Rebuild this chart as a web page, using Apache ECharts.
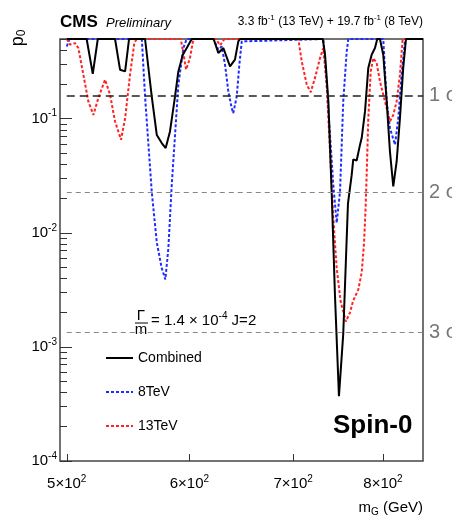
<!DOCTYPE html>
<html>
<head>
<meta charset="utf-8">
<script src="https://cdn.jsdelivr.net/npm/echarts@6/dist/echarts.min.js"></script>
<style>
html, body { margin: 0; padding: 0; background: #fff; }
#chart { width: 452px; height: 522px; }
</style>
</head>
<body>
<div id="chart"></div>
<script>
const FONT = '"Liberation Sans", Arial, Helvetica, sans-serif';

// p0 scan vs resonance mass (GeV)
const combinedMass = [500, 515, 519.7, 523.6, 537.2, 541.2, 545.3, 548.5, 561.7, 567.3, 571.6, 575.8, 579.2, 582.9, 587.3, 590.2, 594.1, 597.6, 602, 622, 626.3, 631, 637.3, 642, 645.2, 646.8, 731.5, 734, 737.6, 741.3, 744.9, 749.3, 754.1, 759.4, 763.6, 765.4, 769.3, 773.1, 775.1, 778.9, 782.7, 786.6, 790.5, 793.2, 796.4, 800.3, 804.4, 808.3, 812.3, 816.4, 820.4, 824.4, 827.8, 849];
const combinedP = [0.5, 0.5, 0.247, 0.5, 0.5, 0.269, 0.26, 0.5, 0.5, 0.157, 0.072, 0.0612, 0.0553, 0.0774, 0.157, 0.26, 0.364, 0.417, 0.5, 0.5, 0.377, 0.417, 0.288, 0.33, 0.476, 0.5, 0.5, 0.364, 0.142, 0.022, 0.0028, 0.00037, 0.0013, 0.018, 0.032, 0.044, 0.043, 0.059, 0.068, 0.116, 0.279, 0.364, 0.417, 0.5, 0.5, 0.364, 0.142, 0.0516, 0.0255, 0.0422, 0.101, 0.279, 0.5, 0.5];

const tev8Mass = [500, 502, 559, 561.7, 564.5, 567.3, 571.6, 575.8, 578.9, 581.5, 584.4, 587.3, 590.2, 594.6, 597.6, 621.7, 626.3, 629.5, 632.6, 635.7, 638.9, 640.4, 643.7, 646.2, 648.5, 732.1, 735.8, 739.4, 743, 746.8, 750.5, 754.1, 758, 759.8, 800.3, 804.4, 808.3, 814.4, 818.4, 822.5, 826.5, 828, 849];
const tev8P = [0.43, 0.5, 0.5, 0.157, 0.06, 0.023, 0.0082, 0.0049, 0.0039, 0.0073, 0.026, 0.0724, 0.199, 0.417, 0.5, 0.5, 0.403, 0.43, 0.298, 0.173, 0.124, 0.112, 0.157, 0.298, 0.476, 0.5, 0.2, 0.0724, 0.0264, 0.0122, 0.023, 0.142, 0.389, 0.5, 0.5, 0.142, 0.0828, 0.0592, 0.101, 0.247, 0.476, 0.5, 0.5];

const tev13Mass = [500, 502.5, 506.2, 508.7, 512.5, 516.3, 520.2, 524, 529.3, 533.2, 537.2, 542, 545.3, 549.3, 552.8, 554.8, 592.3, 594.1, 597, 600.5, 603.5, 624, 628, 632, 705.4, 709, 714.3, 718.5, 723.1, 728.5, 732.1, 735.8, 739.4, 743, 746.8, 751.2, 757, 761.7, 765, 771.2, 775.1, 777.7, 779.5, 780.8, 782.7, 785.5, 788.5, 792.5, 796.4, 802.3, 808.3, 812.3, 816.4, 820.4, 823.7, 849];
const tev13P = [0.5, 0.446, 0.46, 0.417, 0.243, 0.142, 0.108, 0.152, 0.22, 0.163, 0.0946, 0.0654, 0.101, 0.243, 0.461, 0.5, 0.5, 0.4, 0.27, 0.34, 0.5, 0.5, 0.44, 0.5, 0.5, 0.318, 0.199, 0.171, 0.228, 0.34, 0.417, 0.199, 0.0516, 0.0135, 0.0049, 0.0025, 0.00167, 0.002, 0.0025, 0.0032, 0.0045, 0.008, 0.016, 0.032, 0.1, 0.26, 0.34, 0.308, 0.212, 0.142, 0.0946, 0.108, 0.142, 0.243, 0.5, 0.5];

// significance reference lines
const sigmaP = [0.1587, 0.02275, 0.00135];
const sigmaLabels = ['1 σ', '2 σ', '3 σ'];

// axes
const massMin = 495;
const massMax = 849;
const pMin = 1e-4;
const pMax = 0.5;
const xTickMass = [500, 600, 700, 800];
const yTickExp = [-4, -3, -2, -1];

const lg = Math.log10;
const toPoints = (mass, p) => mass.map((m, i) => [lg(m), lg(p[i])]);

const yMinor = [];
yTickExp.forEach(e => {
  for (let k = 2; k <= 9; k++) {
    const v = k * Math.pow(10, e);
    if (v <= pMax) yMinor.push(lg(v));
  }
});

const supRich = {
  b: { fontFamily: FONT, fontSize: 15, color: '#000', lineHeight: 20, verticalAlign: 'middle' },
  s: { fontFamily: FONT, fontSize: 10, color: '#000', lineHeight: 9, verticalAlign: 'top' }
};

const chart = echarts.init(document.getElementById('chart'));

const option = {
  animation: false,
  backgroundColor: '#fff',
  grid: {
    left: 60, right: 29, top: 39, bottom: 61,
    containLabel: false,
    outerBoundsMode: 'none',
    show: true,
    borderColor: '#444',
    borderWidth: 1.5,
    backgroundColor: 'transparent'
  },
  legend: {
    data: ['Combined', '8TeV', '13TeV'],
    orient: 'vertical',
    left: 100,
    top: 346,
    itemWidth: 27,
    itemHeight: 14,
    itemGap: 20,
    itemStyle: { opacity: 0 },
    textStyle: { fontFamily: FONT, fontSize: 14, color: '#000' }
  },
  xAxis: {
    type: 'value',
    min: lg(massMin),
    max: lg(massMax),
    axisLine: { show: false },
    splitLine: { show: false },
    axisTick: {
      show: true, inside: true, length: 7,
      customValues: xTickMass.map(lg),
      lineStyle: { color: '#333', width: 1 }
    },
    axisLabel: {
      customValues: xTickMass.map(lg),
      margin: 13,
      formatter: v => '{b|' + Math.round(Math.pow(10, v) / 100) + '×10}{s|2}',
      rich: supRich
    }
  },
  yAxis: [
    {
      type: 'value',
      min: lg(pMin),
      max: lg(pMax),
      axisLine: { show: false },
      splitLine: { show: false },
      axisTick: {
        show: true, inside: true, length: 12,
        customValues: yTickExp,
        lineStyle: { color: '#333', width: 1 }
      },
      axisLabel: {
        customValues: yTickExp,
        margin: 3,
        formatter: v => '{b|10}{s|' + Math.round(v) + '}',
        rich: supRich
      }
    },
    {
      type: 'value',
      min: lg(pMin),
      max: lg(pMax),
      position: 'left',
      axisLine: { show: false },
      splitLine: { show: false },
      axisTick: {
        show: true, inside: true, length: 7,
        customValues: yMinor,
        lineStyle: { color: '#333', width: 1 }
      },
      axisLabel: { show: false }
    }
  ],
  series: [
    {
      name: '8TeV',
      type: 'line',
      symbol: 'none',
      color: '#1f2cff',
      lineStyle: { color: '#1f2cff', width: 2, type: [3, 2] },
      data: toPoints(tev8Mass, tev8P)
    },
    {
      name: '13TeV',
      type: 'line',
      symbol: 'none',
      color: '#ff2323',
      lineStyle: { color: '#ff2323', width: 2, type: [3, 2] },
      data: toPoints(tev13Mass, tev13P)
    },
    {
      name: 'Combined',
      type: 'line',
      symbol: 'none',
      color: '#000',
      lineStyle: { color: '#000', width: 2 },
      data: toPoints(combinedMass, combinedP),
      markLine: {
        silent: true,
        symbol: ['none', 'none'],
        data: sigmaP.map((p, i) => [
          {
            coord: [lg(500), lg(p)],
            lineStyle: i === 0
              ? { color: '#222', width: 1.5, type: [8, 5] }
              : { color: '#888', width: 1.2, type: [5, 4] },
            label: {
              show: true, position: 'end', distance: 6,
              formatter: sigmaLabels[i],
              fontFamily: FONT, fontSize: 20, color: '#777'
            }
          },
          { coord: [lg(massMax), lg(p)] }
        ])
      }
    }
  ],
  graphic: [
    { type: 'text', x: 60, y: 22, style: { text: 'CMS', font: 'bold 17px ' + FONT, fill: '#000', align: 'left', verticalAlign: 'middle' } },
    { type: 'text', x: 106, y: 23, style: { text: 'Preliminary', font: 'italic 13px ' + FONT, fill: '#000', align: 'left', verticalAlign: 'middle' } },
    {
      type: 'text', x: 423, y: 22,
      style: {
        text: '{n|3.3 fb}{s|-1}{n| (13 TeV) + 19.7 fb}{s|-1}{n| (8 TeV)}',
        align: 'right', verticalAlign: 'middle',
        rich: {
          n: { fontFamily: FONT, fontSize: 12, fill: '#000', lineHeight: 16, verticalAlign: 'middle' },
          s: { fontFamily: FONT, fontSize: 8, fill: '#000', lineHeight: 8, verticalAlign: 'top' }
        }
      }
    },
    {
      type: 'text', x: 18, y: 38, rotation: Math.PI / 2,
      style: {
        text: '{n|p}{s|0}',
        align: 'center', verticalAlign: 'middle',
        rich: {
          n: { fontFamily: FONT, fontSize: 18, fill: '#000', lineHeight: 20, verticalAlign: 'middle' },
          s: { fontFamily: FONT, fontSize: 12, fill: '#000', lineHeight: 8, verticalAlign: 'bottom' }
        }
      }
    },
    { type: 'text', x: 141, y: 316, style: { text: 'Γ', font: '15px ' + FONT, fill: '#000', align: 'center', verticalAlign: 'middle' } },
    { type: 'line', shape: { x1: 135, y1: 323, x2: 148, y2: 323 }, style: { stroke: '#000', lineWidth: 1 } },
    { type: 'text', x: 141, y: 330, style: { text: 'm', font: '15px ' + FONT, fill: '#000', align: 'center', verticalAlign: 'middle' } },
    {
      type: 'text', x: 151, y: 321,
      style: {
        text: '{n|= 1.4 × 10}{s|-4}{n| J=2}',
        align: 'left', verticalAlign: 'middle',
        rich: {
          n: { fontFamily: FONT, fontSize: 15, fill: '#000', lineHeight: 20, verticalAlign: 'middle' },
          s: { fontFamily: FONT, fontSize: 10, fill: '#000', lineHeight: 9, verticalAlign: 'top' }
        }
      }
    },
    { type: 'text', x: 333, y: 426, style: { text: 'Spin-0', font: 'bold 26px ' + FONT, fill: '#000', align: 'left', verticalAlign: 'middle' } },
    {
      type: 'text', x: 423, y: 508,
      style: {
        text: '{n|m}{s|G}{n| (GeV)}',
        align: 'right', verticalAlign: 'middle',
        rich: {
          n: { fontFamily: FONT, fontSize: 15, fill: '#000', lineHeight: 18, verticalAlign: 'middle' },
          s: { fontFamily: FONT, fontSize: 10, fill: '#000', lineHeight: 8, verticalAlign: 'bottom' }
        }
      }
    }
  ]
};

chart.setOption(option);
</script>
</body>
</html>
